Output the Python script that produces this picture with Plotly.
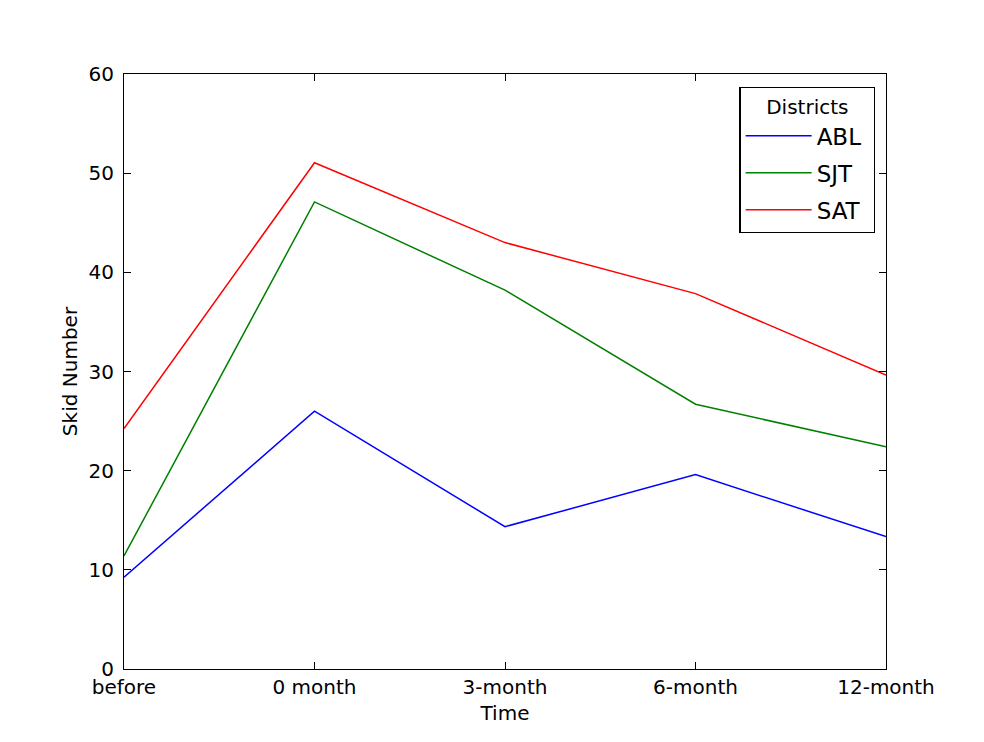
import plotly.graph_objects as go

categories = ["before", "0 month", "3-month", "6-month", "12-month"]
abl = [9.25, 26.0, 14.35, 19.6, 13.35]
sjt = [11.4, 47.1, 38.2, 26.7, 22.4]
sat = [24.25, 51.05, 43.0, 37.85, 29.65]

series = [("ABL", abl, "#0000ff"), ("SJT", sjt, "#008000"), ("SAT", sat, "#ff0000")]
xpos = list(range(len(categories)))

fig = go.Figure()
for name, vals, color in series:
    fig.add_trace(go.Scatter(x=xpos, y=vals, mode="lines", name=name + "\u00a0",
                             legendgroup=name, line=dict(color=color, width=1.5)))

font = "DejaVu Sans"
fig.update_layout(
    width=984, height=742,
    margin=dict(l=116, r=106, t=66, b=81),
    paper_bgcolor="white", plot_bgcolor="white",
    font=dict(family=font, size=20, color="black"),
    showlegend=True,
    legend=dict(
        x=0.986, y=0.978, xanchor="right", yanchor="top",
        bordercolor="black", borderwidth=1.3, bgcolor="white",
        font=dict(size=23, family=font),
        title=dict(text="Districts", side="top center", font=dict(size=20, family=font)),
        itemwidth=66, tracegroupgap=4,
    ),
    xaxis=dict(
        range=[0, 4], tickvals=xpos, ticktext=categories,
        showgrid=False, zeroline=False, showline=True, linecolor="black", linewidth=1,
        mirror="ticks", ticks="inside", ticklen=7, tickcolor="black",
        title=dict(text="Time", font=dict(size=20), standoff=7),
    ),
    yaxis=dict(
        range=[0, 60], tickvals=[0, 10, 20, 30, 40, 50, 60],
        showgrid=False, zeroline=False, showline=True, linecolor="black", linewidth=1,
        mirror="ticks", ticks="inside", ticklen=7, tickcolor="black",
        ticklabelstandoff=5,
        title=dict(text="Skid Number", font=dict(size=20), standoff=5),
    ),
)
fig.write_html("out.html")
